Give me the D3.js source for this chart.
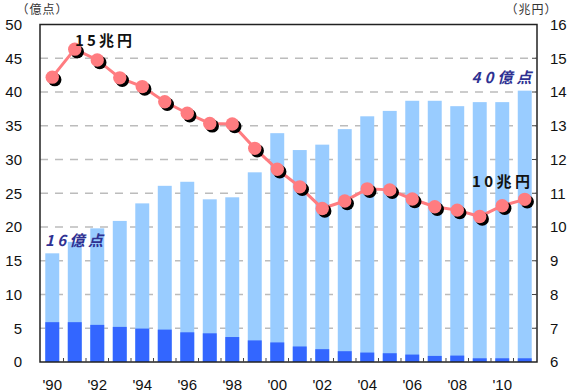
<!DOCTYPE html>
<html><head><meta charset="utf-8">
<script src="https://cdn.jsdelivr.net/npm/d3@7"></script>
<style>
html,body{margin:0;padding:0;background:#fff;}
svg{display:block;}
</style></head>
<body>
<svg id="c" width="570" height="392"></svg>
<script>
const years = [1990,1991,1992,1993,1994,1995,1996,1997,1998,1999,2000,2001,2002,2003,2004,2005,2006,2007,2008,2009,2010,2011];
// total volume (億点) – light bars
const totalVolume = [16.1,17.8,19.8,20.9,23.5,26.1,26.7,24.1,24.4,28.1,33.9,31.4,32.2,34.5,36.4,37.2,38.7,38.7,37.9,38.5,38.5,40.2];
// lower part (億点) – dark bars
const darkVolume = [5.9,5.9,5.5,5.2,4.95,4.8,4.4,4.25,3.7,3.2,2.9,2.3,1.9,1.6,1.4,1.3,1.1,0.9,0.95,0.55,0.55,0.55];
// value (兆円) – line
const amount = [14.44,15.27,14.95,14.42,14.16,13.71,13.37,13.07,13.05,12.33,11.71,11.19,10.55,10.77,11.13,11.1,10.83,10.6,10.5,10.31,10.63,10.82];
const leftTicks = [0,5,10,15,20,25,30,35,40,45,50];
const rightTicks = [6,7,8,9,10,11,12,13,14,15,16];
const xLabelYears = [1990,1992,1994,1996,1998,2000,2002,2004,2006,2008,2010];

const L=40, R=537, T=24.5, B=362;
const svg = d3.select('#c');
const x = d3.scaleBand().domain(years).range([L,R]).paddingInner(0.38).paddingOuter(0.235);
const yL = d3.scaleLinear().domain([0,50]).range([B,T]);
const yR = d3.scaleLinear().domain([6,16]).range([B,T]);
const font = "'Liberation Sans', Arial, sans-serif";
const jfont = "'Noto Sans CJK JP', sans-serif";

// grid
svg.append('g').selectAll('line').data(leftTicks.filter(d=>d>0&&d<50)).join('line')
  .attr('x1',L).attr('x2',R).attr('y1',d=>yL(d)).attr('y2',d=>yL(d))
  .attr('stroke','#bcbcbc').attr('stroke-width',1.3).attr('stroke-dasharray','8,7');

// bars
svg.append('g').selectAll('rect').data(years).join('rect')
  .attr('x',d=>x(d)).attr('width',x.bandwidth())
  .attr('y',(d,i)=>yL(totalVolume[i])).attr('height',(d,i)=>B-yL(totalVolume[i]))
  .attr('fill','#99CCFF');
svg.append('g').selectAll('rect').data(years).join('rect')
  .attr('x',d=>x(d)).attr('width',x.bandwidth())
  .attr('y',(d,i)=>yL(darkVolume[i])).attr('height',(d,i)=>B-yL(darkVolume[i]))
  .attr('fill','#3366FF');

// frame
svg.append('rect').attr('x',L).attr('y',T).attr('width',R-L).attr('height',B-T)
  .attr('fill','none').attr('stroke','#222').attr('stroke-width',1.5);

// x ticks at band boundaries
const gap = x.step()*x.paddingInner();
svg.append('g').selectAll('line').data(years.slice(1)).join('line')
  .attr('x1',d=>x(d)-gap/2).attr('x2',d=>x(d)-gap/2).attr('y1',B).attr('y2',B-4)
  .attr('stroke','#444').attr('stroke-width',1);
// right ticks
svg.append('g').selectAll('line').data(rightTicks.slice(1,-1)).join('line')
  .attr('x1',R).attr('x2',R-5).attr('y1',d=>yR(d)).attr('y2',d=>yR(d))
  .attr('stroke','#444').attr('stroke-width',1);

// line
const line = d3.line().x((d,i)=>x(years[i])+x.bandwidth()/2).y(d=>yR(d));
svg.append('path').datum(amount).attr('d',line).attr('fill','none')
  .attr('stroke','#FF7C80').attr('stroke-width',3);
svg.append('g').selectAll('circle').data(amount).join('circle')
  .attr('cx',(d,i)=>x(years[i])+x.bandwidth()/2+2.5).attr('cy',d=>yR(d)+2.5).attr('r',6.7).attr('fill','#000');
svg.append('g').selectAll('circle').data(amount).join('circle')
  .attr('cx',(d,i)=>x(years[i])+x.bandwidth()/2).attr('cy',d=>yR(d)).attr('r',6.7).attr('fill','#FF7C80');

// axis labels
svg.append('g').selectAll('text').data(leftTicks).join('text')
  .attr('x',22).attr('y',d=>yL(d)).attr('dy','0.36em').attr('text-anchor','end')
  .attr('font-family',font).attr('font-size',15).attr('fill','#111').text(d=>d);
svg.append('g').selectAll('text').data(rightTicks).join('text')
  .attr('x',550).attr('y',d=>yR(d)).attr('dy','0.36em').attr('text-anchor','start')
  .attr('font-family',font).attr('font-size',15).attr('fill','#111').text(d=>d);
svg.append('g').selectAll('text').data(xLabelYears).join('text')
  .attr('x',d=>x(d)+x.bandwidth()/2).attr('y',390).attr('text-anchor','middle')
  .attr('font-family',font).attr('font-size',15).attr('fill','#111')
  .text(d=>"'"+String(d).slice(2));

// unit labels
const units = [{t:'（億点）', cx:42.5}, {t:'（兆円）', cx:531.5}];
svg.append('g').selectAll('text').data(units).join('text')
  .attr('x',d=>d.cx).attr('y',14).attr('text-anchor','middle')
  .attr('font-family',jfont).attr('font-size',12).attr('letter-spacing',1)
  .attr('fill','#333').text(d=>d.t);

// annotations
const ann = [
  {t:'15兆円', cx:103.5, w:57, y:46, c:'#111', it:false},
  {t:'10兆円', cx:501, w:58, y:187, c:'#111', it:false},
  {t:'40億点', cx:501.5, w:60, y:83, c:'#2E3192', it:true},
  {t:'16億点', cx:74, w:58, y:246, c:'#2E3192', it:true}
];
svg.append('g').selectAll('text').data(ann).join('text')
  .attr('x',d=>d.cx).attr('y',d=>d.y).attr('text-anchor','middle')
  .attr('font-family',jfont).attr('font-size',15)
  .attr('font-weight','bold').attr('font-style',d=>d.it?'italic':'normal')
  .attr('textLength',d=>d.w).attr('lengthAdjust','spacing')
  .attr('fill',d=>d.c).text(d=>d.t);
</script>
</body></html>
